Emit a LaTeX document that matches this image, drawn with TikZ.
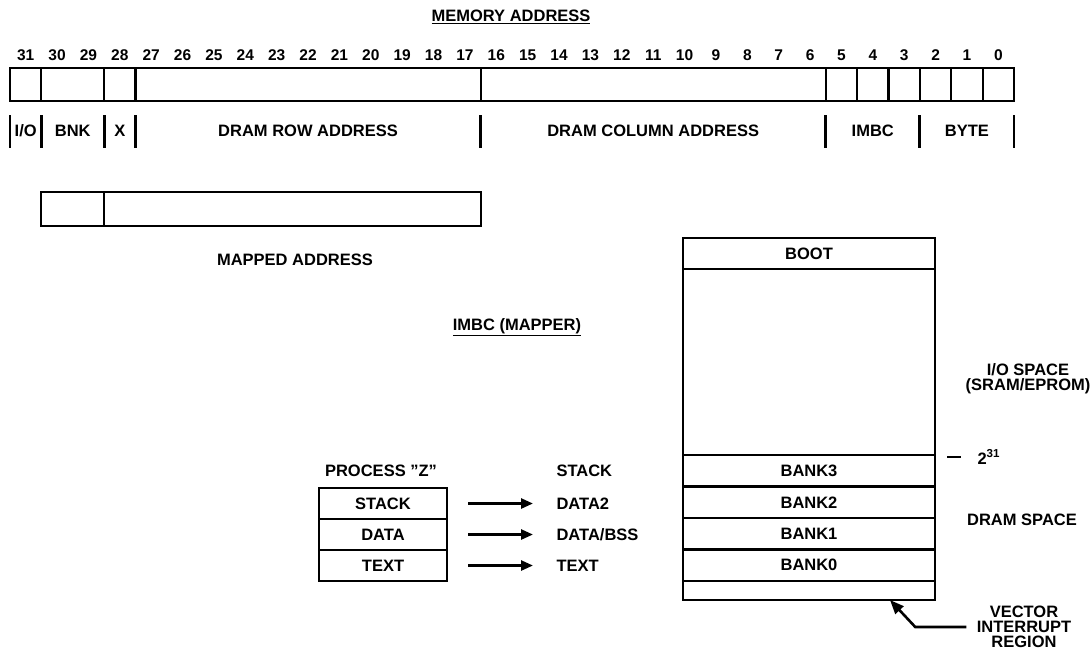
\documentclass[tikz,border=0pt]{standalone}
\usepackage{fontspec}
\setmainfont{Liberation Sans}
\usetikzlibrary{positioning, arrows.meta, calc}
\newcommand{\bitw}{31.375}

\begin{document}
\begin{tikzpicture}[x=1pt, y=1pt, node distance=0pt,
    every node/.style={font=\fontsize{16.5}{15}\selectfont\bfseries},
    cell/.style={draw, line width=2.2pt, outer sep=0pt, inner sep=0pt, minimum height=33pt},
    bank/.style={cell, minimum width=252pt, minimum height=31.5pt},
    pcell/.style={cell, minimum width=128pt, minimum height=31pt},
    bitnum/.style={font=\fontsize{15.5}{15}\selectfont\bfseries},
    bar/.style={line width=2.8pt},
    maparrow/.style={-{Triangle[length=12pt, width=10pt]}, line width=2.6pt, shorten <=21pt, shorten >=20pt},
    pointer/.style={-{Triangle[length=14pt, width=11pt]}, line width=2.6pt, shorten <=7pt}]
  \useasboundingbox (0,0) rectangle (1092,-654);

  % memory address register
  \node (title) at (511,-17) {\underline{MEMORY ADDRESS}};
  \node[cell, anchor=north west, minimum width=\bitw pt] (fio) at (10,-68) {};
  \node[cell, right=of fio, minimum width={2*\bitw pt}] (fbnk) {};
  \node[cell, right=of fbnk, minimum width=\bitw pt] (fx) {};
  \node[cell, right=of fx, minimum width={11*\bitw pt}] (frow) {};
  \node[cell, right=of frow, minimum width={11*\bitw pt}] (fcol) {};
  \foreach \b/\p in {5/fcol, 4/f5, 3/f4, 2/f3, 1/f2, 0/f1}
    \node[cell, right=of \p, minimum width=\bitw pt] (f\b) {};
  \foreach \b in {0,...,31}
    \node[bitnum] at ({10+(31.5-\b)*\bitw}, -55) {\b};

  % field bars and names
  \foreach \a in {fio.south west, fbnk.south west, fx.south west, frow.south west,
                  fcol.south west, f5.south west, f2.south west, f0.south east}
    \draw[bar] ([yshift=-14pt]\a) -- ++(0,-33);
  \node at ([yshift=-30pt]fio.south) {I/O};
  \node at ([yshift=-30pt]fbnk.south) {BNK};
  \node at ([yshift=-30pt]fx.south) {X};
  \node at ([yshift=-30pt]frow.south) {DRAM ROW ADDRESS};
  \node at ([yshift=-30pt]fcol.south) {DRAM COLUMN ADDRESS};
  \node at ([yshift=-30pt]f4.south) {IMBC};
  \node at ([yshift=-30pt]f1.south) {BYTE};

  % mapped address
  \node[cell, anchor=north west, minimum height=34pt, minimum width={2*\bitw pt}] (mbnk) at ([yshift=-91pt]fbnk.south west) {};
  \node[cell, right=of mbnk, minimum height=34pt, minimum width={12*\bitw pt}] (mrow) {};
  \node (mlabel) at (295,-260) {MAPPED ADDRESS};
  \node (mapper) at (517,-327) {\underline{IMBC (MAPPER)}};

  % process segments
  \node (ptitle) at (381,-471) {PROCESS \symbol{34}Z\symbol{34}};
  \node[pcell, anchor=north west] (pstack) at (319,-488) {STACK};
  \node[pcell, below=of pstack] (pdata) {DATA};
  \node[pcell, below=of pdata] (ptext) {TEXT};
  \node[right=106pt of pstack] (tdata2) {DATA2};
  \node[right=106pt of pdata] (tbss) {DATA/BSS};
  \node[right=106pt of ptext] (ttext) {TEXT};
  \node[anchor=west] (tstack) at (tdata2.west |- ptitle) {STACK};
  \draw[maparrow] (pstack) -- (tdata2);
  \draw[maparrow] (pdata) -- (tbss);
  \draw[maparrow] (ptext) -- (ttext);

  % memory map
  \node[cell, anchor=north west, minimum width=252pt, minimum height=31pt] (boot) at (683,-238) {BOOT};
  \node[cell, below=of boot, minimum width=252pt, minimum height=186pt] (iospace) {};
  \node[bank, below=of iospace] (bank3) {BANK3};
  \node[bank, below=of bank3] (bank2) {BANK2};
  \node[bank, below=of bank2] (bank1) {BANK1};
  \node[bank, below=of bank1] (bank0) {BANK0};
  \node[cell, below=of bank0, minimum width=252pt, minimum height=19pt] (vecreg) {};

  \node[align=center] (iolabel) at (1028,-379) {I/O SPACE\\(SRAM/EPROM)};
  \node[anchor=west] (t31) at (974,-457) {2\textsuperscript{31}};
  \draw[bar] ([xshift=-27pt]t31.west) -- ([xshift=-13pt]t31.west);
  \node (dramlabel) at (1022,-520) {DRAM SPACE};
  \node[align=center] (vlabel) at (1024,-627) {VECTOR\\INTERRUPT\\REGION};
  \coordinate (vtip) at ([xshift=-45pt]vecreg.south east);
  \coordinate (vbend) at ([xshift=-58pt]vlabel.west);
  \draw[pointer] (vlabel.west) -- (vbend) -- (vtip);
\end{tikzpicture}
\end{document}
